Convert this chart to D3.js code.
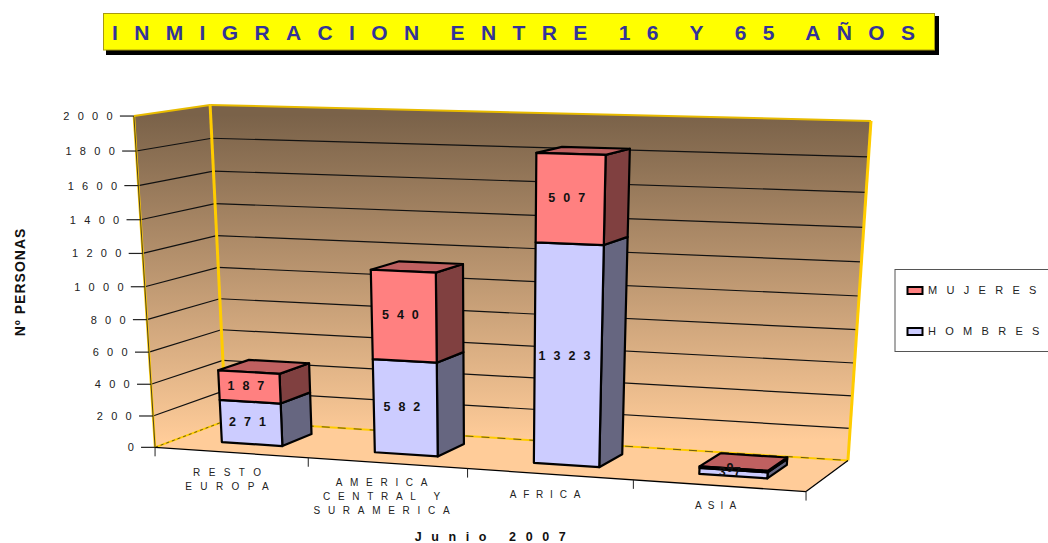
<!DOCTYPE html>
<html><head><meta charset="utf-8">
<script src="https://cdn.jsdelivr.net/npm/d3@7/dist/d3.min.js"></script>
<style>html,body{margin:0;padding:0;background:#fff;overflow:hidden}svg{display:block}text{font-family:"Liberation Sans",Arial,sans-serif}</style>
</head><body><svg id="c" width="1048" height="543"></svg>
<script>
const titleText = "INMIGRACION ENTRE 16 Y 65 AÑOS";
const categories = ["RESTO EUROPA", "AMERICA CENTRAL Y SURAMERICA", "AFRICA", "ASIA"];
const categoryLines = [["RESTO","EUROPA"],["AMERICA","CENTRAL Y","SURAMERICA"],["AFRICA"],["ASIA"]];
const hombres = [271, 582, 1323, 37];
const mujeres = [187, 540, 507, 9];
const yTicks = [0,200,400,600,800,1000,1200,1400,1600,1800,2000];
const seriesNames = ["MUJERES","HOMBRES"];

// camera calibration: unit-cube corner [x,y,z] -> picture position
const calib = [
 [[0,0,0],[155,447]],[[0,1,0],[134,116]],[[0,0,1],[226,421]],[[0,1,1],[210,105]],
 [[1,0,1],[848,460]],[[1,1,1],[871,121]],[[1,0,0],[806,492]]
];
function fitCamera(){
  const rows=[],rhs=[];
  calib.forEach(([[x,y,z],[u,v]])=>{
    rows.push([x,y,z,1,0,0,0,0,-u*x,-u*y,-u*z]);rhs.push(u);
    rows.push([0,0,0,0,x,y,z,1,-v*x,-v*y,-v*z]);rhs.push(v);
  });
  const n=11,M=d3.range(n).map(i=>d3.range(n+1).map(j=>{
    let s=0;rows.forEach((r,k)=>{s+=r[i]*(j<n?r[j]:rhs[k]);});return s;}));
  for(let i=0;i<n;i++){
    let p=i;for(let r=i+1;r<n;r++)if(Math.abs(M[r][i])>Math.abs(M[p][i]))p=r;
    [M[i],M[p]]=[M[p],M[i]];
    for(let r=0;r<n;r++)if(r!==i){const f=M[r][i]/M[i][i];for(let c=i;c<=n;c++)M[r][c]-=f*M[i][c];}
  }
  return M.map((r,i)=>r[n]/r[i]);
}
const P=fitCamera();
function proj(x,y,z){
  const w=P[8]*x+P[9]*y+P[10]*z+1;
  return [(P[0]*x+P[1]*y+P[2]*z+P[3])/w,(P[4]*x+P[5]*y+P[6]*z+P[7])/w];
}
const xBand=d3.scaleBand().domain(categories).range([0,1]).paddingInner(0.6).paddingOuter(0.3);
const xEdge=d3.scaleLinear().domain([0,categories.length]).range([0,1]);
const yVal=d3.scaleLinear().domain([0,2000]).range([0,1]);
const zBar=[0.30,0.74];

const svg=d3.select("#c");
const defs=svg.append("defs");
const g=defs.append("linearGradient").attr("id","wall").attr("gradientUnits","userSpaceOnUse")
 .attr("x1",0).attr("x2",0).attr("y1",115).attr("y2",440);
g.append("stop").attr("offset",0).attr("stop-color","#7a6249");
g.append("stop").attr("offset",1).attr("stop-color","#ffcc99");
const line=d3.line();
const poly=(pts,fill,stroke,sw)=>svg.append("path").attr("d",line(pts)+"Z").attr("fill",fill)
  .attr("stroke",stroke||"none").attr("stroke-width",sw||0).attr("stroke-linejoin","round");
const seg=(a,b,stroke,sw,dash)=>svg.append("path").attr("d",line([a,b])).attr("fill","none")
  .attr("stroke",stroke).attr("stroke-width",sw).attr("stroke-dasharray",dash||null);

// title
svg.append("rect").attr("x",106).attr("y",16).attr("width",833).attr("height",39).attr("fill","#000");
svg.append("rect").attr("x",103.5).attr("y",13.5).attr("width",831).attr("height",36.5).attr("fill","#ffff00").attr("stroke","#a89a10").attr("stroke-width",1);
svg.append("text").attr("x",112).attr("y",40).attr("font-size",21).attr("font-weight","bold").attr("fill","#333399")
  .attr("word-spacing",-7).attr("textLength",803).attr("lengthAdjust","spacing").text(titleText);

// walls and floor
poly([proj(0,0,0),proj(0,1,0),proj(0,1,1),proj(0,0,1)],"url(#wall)");
poly([proj(0,0,1),proj(0,1,1),proj(1,1,1),proj(1,0,1)],"url(#wall)");
poly([proj(0,0,0),proj(0,0,1),proj(1,0,1),proj(1,0,0)],"#ffcc99");

// gridlines
yTicks.filter(t=>t>0&&t<2000).forEach(t=>{
  const v=yVal(t);
  seg(proj(0,v,0),proj(0,v,1),"#111",1.2);
  seg(proj(0,v,1),proj(1,v,1),"#111",1.2);
});
// wall edges
seg(proj(0,0,0),proj(0,1,0),"#ffcc00",2.4);
seg(proj(0,0,0),proj(0,1,0),"#222",0.8);
seg(proj(0,1,0),proj(0,1,1),"#e8bb00",2);
seg(proj(0,1,1),proj(1,1,1),"#e8bb00",2);
seg(proj(0,1,1),proj(0,0,1),"#ffcc00",3);
seg(proj(1,1,1),proj(1,0,1),"#ffcc00",3);
seg(proj(0,0,0),proj(0,0,1),"#ffcc00",2);
seg(proj(0,0,1),proj(1,0,1),"#ffcc00",2);
seg(proj(0,0,0),proj(0,0,1),"#6b5a10",1,"3,3");
seg(proj(0,0,1),proj(1,0,1),"#6b5a10",1,"8,8");
seg(proj(0,0,0),proj(1,0,0),"#000",1.3);
seg(proj(1,0,0),proj(1,0,1),"#000",1.3);

// y axis
yTicks.forEach(t=>{
  const a=proj(0,yVal(t),0);
  seg([a[0]-14,a[1]],a,"#222",1.2);
  svg.append("text").attr("x",a[0]-13).attr("y",a[1]+4).attr("text-anchor","end")
    .attr("font-size",11).attr("letter-spacing",8.3).attr("fill","#222").text(t);
});
// x axis ticks + labels
d3.range(categories.length+1).forEach(i=>{
  const a=proj(xEdge(i),0,0);
  seg(a,[a[0],a[1]+9],"#222",1);
});
const labelShift=[[0.3,24],[-1.7,23],[-1.2,24],[-0.2,23]];
const labelTrack=[8.4,7.7,6.8,6.1];
categoryLines.forEach((lines,i)=>{
  const a=proj(xEdge(i+0.5),0,0);
  lines.forEach((l,j)=>{
    svg.append("text").attr("x",a[0]+labelShift[i][0]).attr("y",a[1]+labelShift[i][1]+j*13.8).attr("text-anchor","middle")
      .attr("font-size",10).attr("letter-spacing",labelTrack[i]).attr("fill","#222").text(l);
  });
});

// bars
const shades={h:{front:"#ccccff",side:"#666680",top:"#9999bf"},m:{front:"#ff8080",side:"#804040",top:"#bf6060"}};
function box(x0,x1,b,t,c,withTop){
  const [z0,z1]=zBar,S="#000",W=2.2;
  poly([proj(x1,yVal(b),z0),proj(x1,yVal(t),z0),proj(x1,yVal(t),z1),proj(x1,yVal(b),z1)],c.side,S,W);
  if(withTop) poly([proj(x0,yVal(t),z0),proj(x0,yVal(t),z1),proj(x1,yVal(t),z1),proj(x1,yVal(t),z0)],c.top,S,W);
  poly([proj(x0,yVal(b),z0),proj(x0,yVal(t),z0),proj(x1,yVal(t),z0),proj(x1,yVal(b),z0)],c.front,S,W);
}
const labels=[];
categories.forEach((cat,i)=>{
  const x0=xBand(cat),x1=x0+xBand.bandwidth(),h=hombres[i],m=mujeres[i];
  box(x0,x1,0,h,shades.h,false);
  box(x0,x1,h,h+m,shades.m,true);
  const fc=(b,t)=>proj((x0+x1)/2,yVal((b+t)/2),zBar[0]);
  labels.push([h,fc(0,h)]);labels.push([m,fc(h,h+m)]);
});
labels.forEach(([v,p])=>{
  svg.append("text").attr("x",p[0]+0.5).attr("y",p[1]+3).attr("text-anchor","middle")
   .attr("font-size",12.5).attr("font-weight","bold").attr("letter-spacing",8).attr("fill","#111").text(v);
});

// axis titles
svg.append("text").attr("transform","translate(25,282) rotate(-90)").attr("text-anchor","middle")
  .attr("font-size",14).attr("font-weight","bold").attr("letter-spacing",1).attr("fill","#111").text("Nº PERSONAS");
svg.append("text").attr("x",495).attr("y",541).attr("text-anchor","middle").attr("font-size",12.5)
  .attr("font-weight","bold").attr("letter-spacing",9.6).attr("fill","#111").text("Junio 2007");

// legend
svg.append("rect").attr("x",895).attr("y",269.5).attr("width",160).attr("height",82).attr("fill","#fff").attr("stroke","#555").attr("stroke-width",1);
seriesNames.forEach((s,i)=>{
  const y=287+i*41;
  svg.append("rect").attr("x",907.5).attr("y",y).attr("width",15).attr("height",7).attr("fill",i?shades.h.front:shades.m.front).attr("stroke","#000").attr("stroke-width",2);
  svg.append("text").attr("x",928).attr("y",y+6.5).attr("font-size",11).attr("letter-spacing",9.3).attr("fill","#222").text(s);
});
</script></body></html>
